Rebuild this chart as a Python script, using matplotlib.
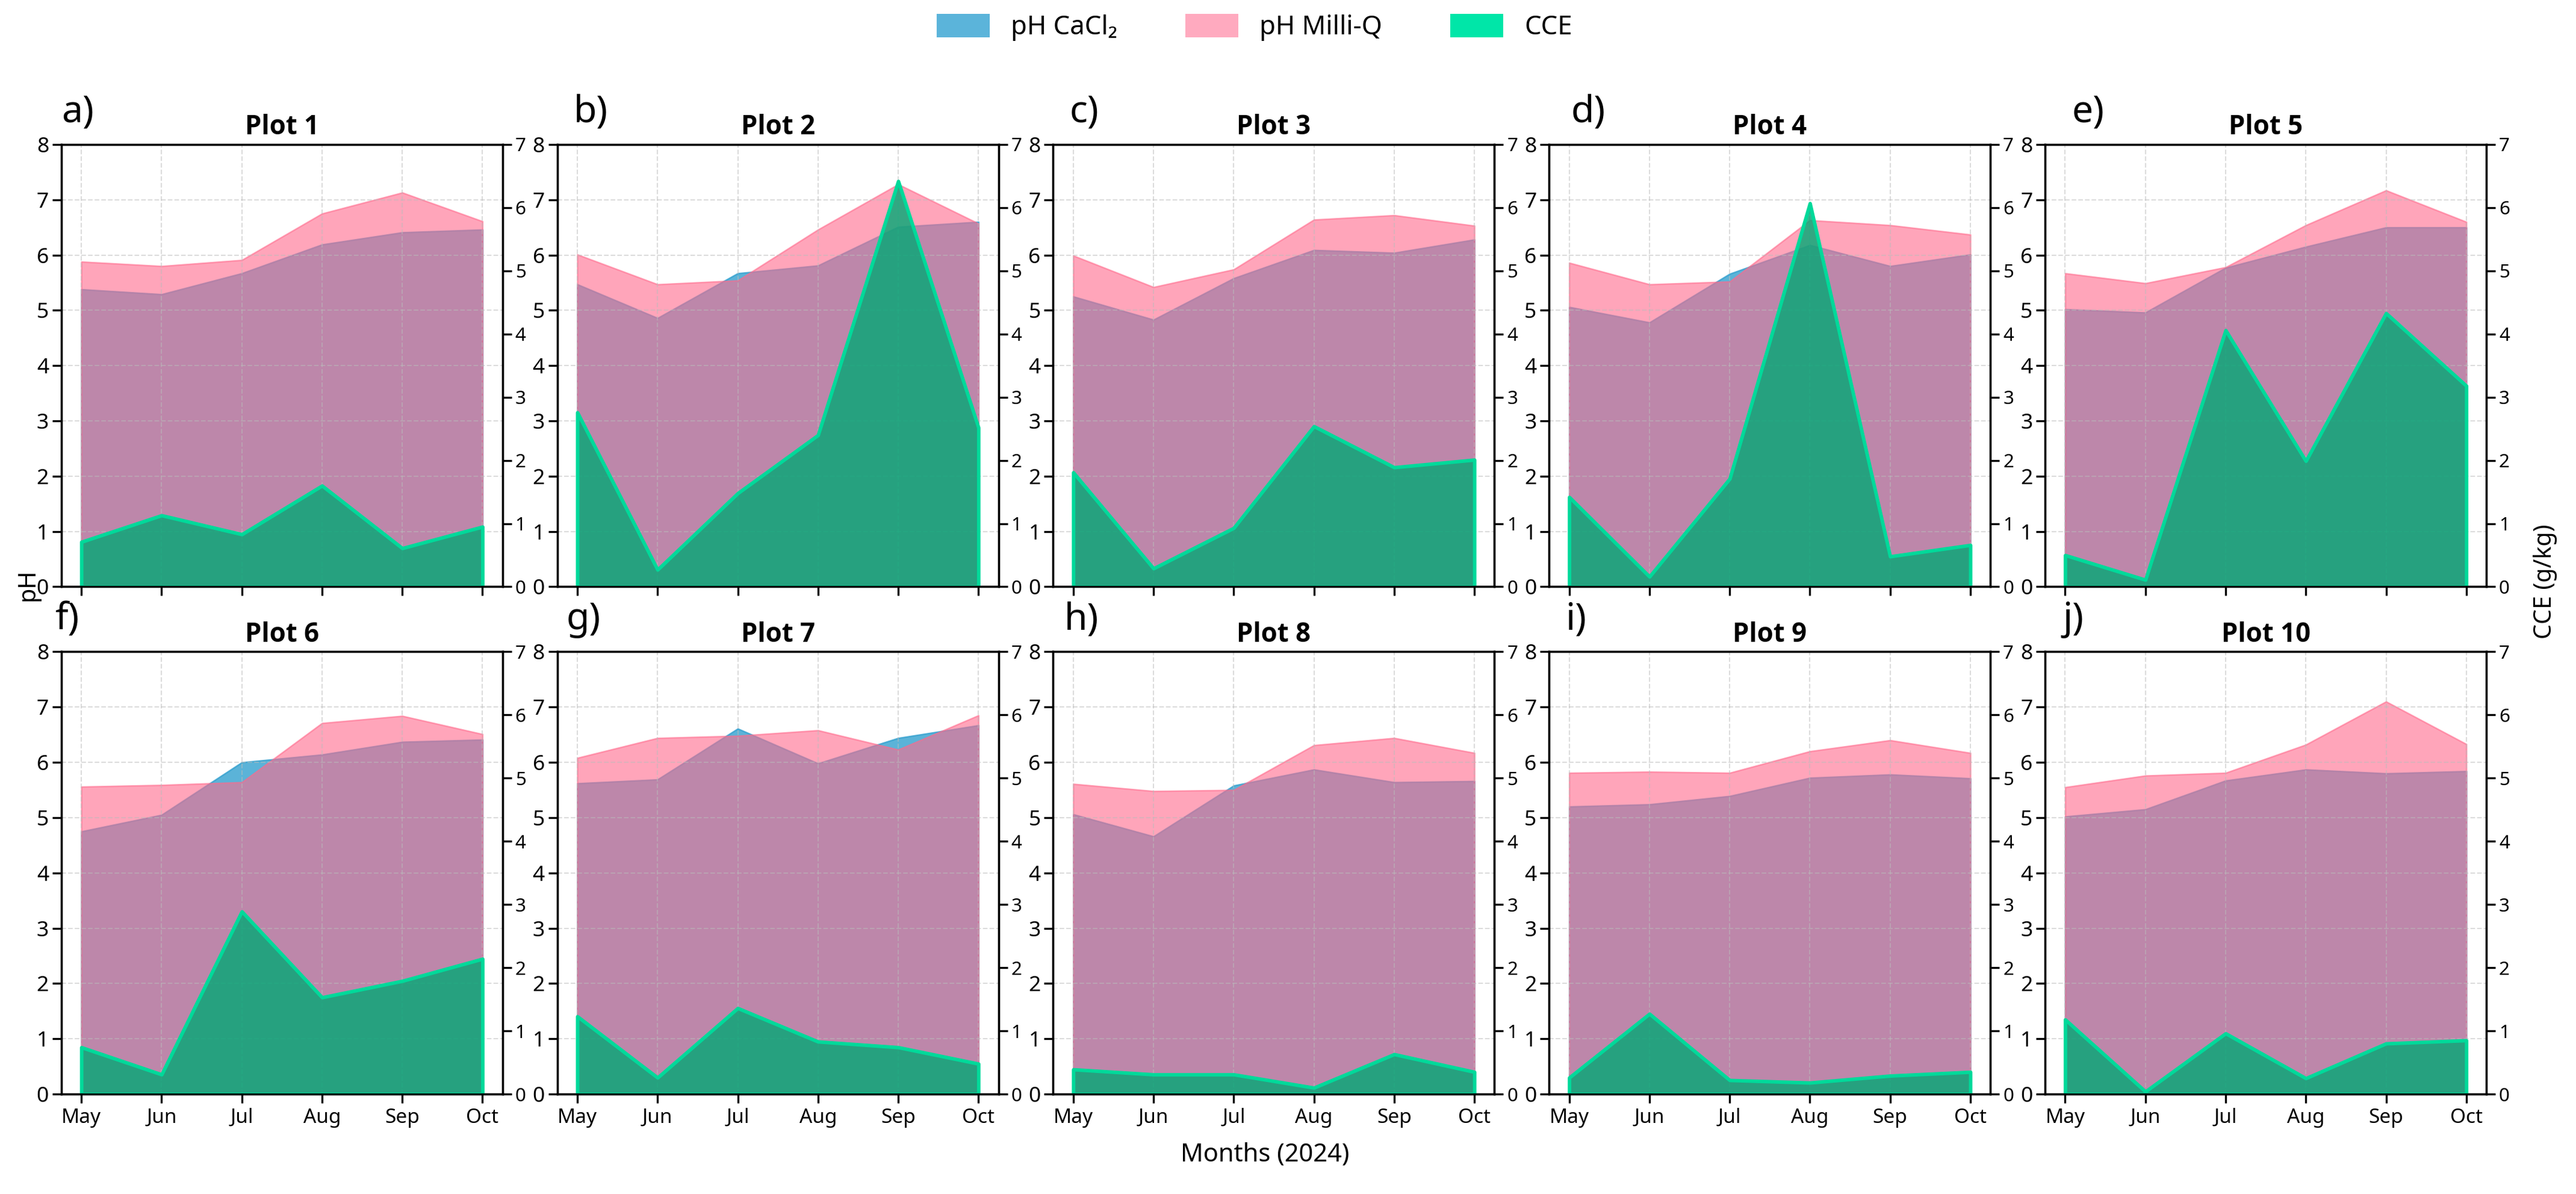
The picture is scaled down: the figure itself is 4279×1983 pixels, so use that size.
import numpy as np
import matplotlib.pyplot as plt
from matplotlib.patches import Patch

plt.rcParams['font.family'] = ['Noto Sans', 'DejaVu Sans']

# dados
months = ['May', 'Jun', 'Jul', 'Aug', 'Sep', 'Oct']
titles = ['Plot 1', 'Plot 2', 'Plot 3', 'Plot 4', 'Plot 5',
          'Plot 6', 'Plot 7', 'Plot 8', 'Plot 9', 'Plot 10']
letters = ['a)', 'b)', 'c)', 'd)', 'e)', 'f)', 'g)', 'h)', 'i)', 'j)']

ph_cacl2 = [
    [5.38, 5.29, 5.67, 6.19, 6.41, 6.46],
    [5.47, 4.86, 5.67, 5.81, 6.51, 6.60],
    [5.25, 4.83, 5.58, 6.09, 6.04, 6.28],
    [5.06, 4.78, 5.66, 6.18, 5.80, 6.01],
    [5.02, 4.96, 5.77, 6.15, 6.50, 6.50],
    [4.75, 5.05, 6.00, 6.14, 6.37, 6.41],
    [5.62, 5.69, 6.61, 5.98, 6.44, 6.67],
    [5.06, 4.66, 5.58, 5.87, 5.64, 5.66],
    [5.20, 5.24, 5.39, 5.72, 5.78, 5.71],
    [5.02, 5.15, 5.67, 5.87, 5.80, 5.84],
]
ph_milliq = [
    [5.88, 5.80, 5.91, 6.75, 7.13, 6.61],
    [6.01, 5.47, 5.54, 6.46, 7.28, 6.57],
    [5.99, 5.42, 5.74, 6.64, 6.72, 6.53],
    [5.86, 5.47, 5.52, 6.63, 6.54, 6.37],
    [5.67, 5.49, 5.78, 6.54, 7.17, 6.60],
    [5.56, 5.59, 5.64, 6.71, 6.84, 6.51],
    [6.08, 6.44, 6.48, 6.58, 6.23, 6.85],
    [5.61, 5.48, 5.50, 6.31, 6.44, 6.17],
    [5.81, 5.83, 5.81, 6.20, 6.40, 6.17],
    [5.55, 5.76, 5.81, 6.32, 7.10, 6.33],
]
cce = [
    [0.71, 1.13, 0.83, 1.60, 0.61, 0.95],
    [2.76, 0.27, 1.48, 2.40, 6.42, 2.52],
    [1.81, 0.29, 0.93, 2.54, 1.89, 2.01],
    [1.42, 0.16, 1.71, 6.07, 0.48, 0.66],
    [0.50, 0.11, 4.06, 1.99, 4.33, 3.18],
    [0.74, 0.31, 2.89, 1.53, 1.79, 2.14],
    [1.23, 0.26, 1.36, 0.83, 0.74, 0.48],
    [0.39, 0.31, 0.31, 0.10, 0.63, 0.35],
    [0.26, 1.27, 0.22, 0.18, 0.29, 0.35],
    [1.18, 0.04, 0.96, 0.25, 0.80, 0.85],
]

# cores
cor_cacl2 = '#32A0CF'
cor_milliq = '#FF6A8C'
cor_cce_face = (0.0, 0.66, 0.46, 0.8)
cor_cce_edge = '#00D99A'

x = np.arange(len(months))

fig, axes = plt.subplots(2, 5, figsize=(4279 / 300, 1983 / 300), dpi=300)
fig.subplots_adjust(left=0.0238, right=0.9652, top=0.879, bottom=0.0837,
                    wspace=0.124, hspace=0.147)

label_dx = [0.0, 0.037, 0.037, 0.05, 0.06, -0.014, 0.02, 0.025, 0.037, 0.04]

for i, ax in enumerate(axes.flat):
    ax.fill_between(x, ph_cacl2[i], color=cor_cacl2, alpha=0.8, linewidth=0.6)
    ax.fill_between(x, ph_milliq[i], color=cor_milliq, alpha=0.6, linewidth=0.6)
    ax.set_ylim(0, 8)
    ax.set_yticks(range(0, 9))
    ax.set_xticks(x)
    ax.grid(True, linestyle='--', color='#bbbbbb', alpha=0.5, linewidth=0.5)
    ax.tick_params(axis='y', labelsize=8.5, pad=1.5)
    ax.tick_params(axis='x', labelsize=8, pad=2)
    if i < 5:
        ax.set_xticklabels([])
    else:
        ax.set_xticklabels(months)

    ax2 = ax.twinx()
    ax2.fill_between(x, cce[i], facecolor=cor_cce_face, edgecolor=cor_cce_edge,
                     linewidth=1.4)
    ax2.set_ylim(0, 7)
    ax2.set_yticks(range(0, 8))
    ax2.tick_params(axis='y', labelsize=7.5, pad=1.5)

    ax.set_title(titles[i], fontsize=10.5, fontweight='bold', pad=4,
                 family=['Open Sans', 'DejaVu Sans'])
    ax.text(label_dx[i], 1.03, letters[i], transform=ax.transAxes,
            fontsize=15, ha='left', va='bottom')

handles = [Patch(facecolor='#5BB4DA', label='pH CaCl₂'),
           Patch(facecolor='#FFAABF', label='pH Milli-Q'),
           Patch(facecolor='#00E6A8', label='CCE')]
fig.legend(handles=handles, loc='center', bbox_to_anchor=(0.487, 0.977),
           ncol=3, frameon=False, fontsize=10.5, handlelength=2.0,
           handleheight=1.0, columnspacing=2.6)

fig.text(0.491, 0.033, 'Months (2024)', ha='center', va='center', fontsize=10)
fig.text(0.011, 0.51, 'pH', rotation=90, ha='center', va='center', fontsize=9.5)
fig.text(0.988, 0.513, 'CCE (g/kg)', rotation=90, ha='center', va='center',
         fontsize=9.5)

plt.savefig('out.png', dpi=300)
